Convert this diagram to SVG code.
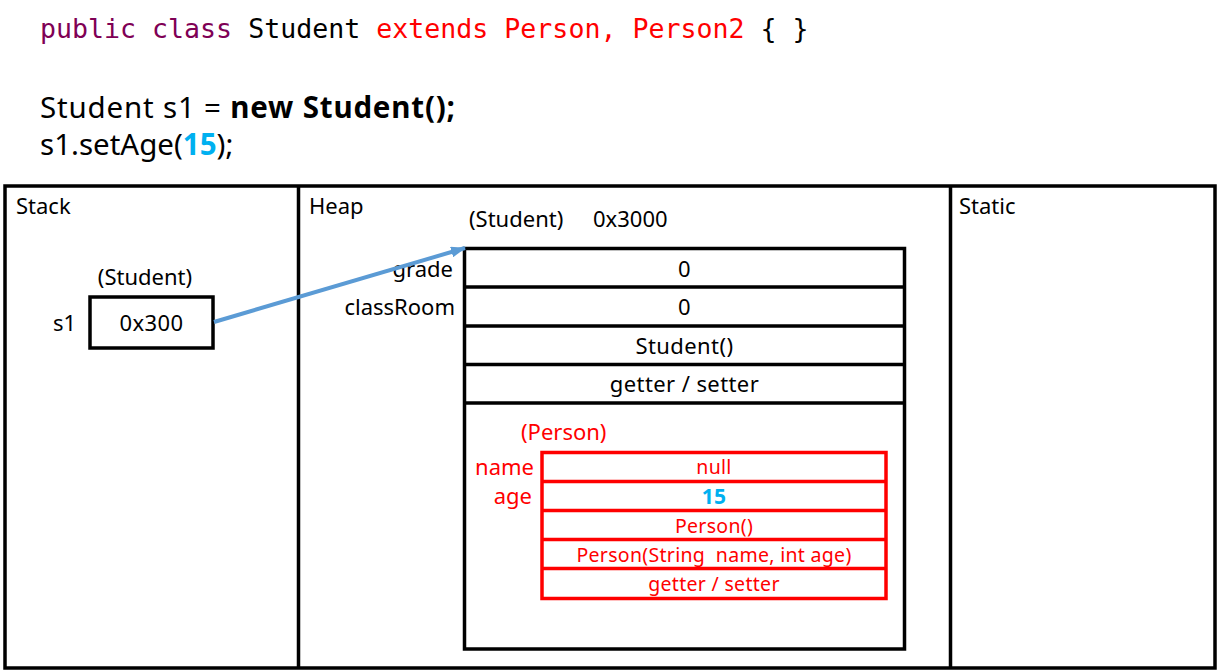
<svg xmlns="http://www.w3.org/2000/svg" width="1219" height="671" viewBox="0 0 1219 671">
<defs>
<style>
text{font-family:"Noto Sans","Open Sans","Liberation Sans",sans-serif;fill:#000}
.code{font-family:"DejaVu Sans Mono","Liberation Mono",monospace;font-size:26.6px}
.kw{fill:#7F0055}
.red{fill:#FF0000}
.blue{fill:#00B0F0;font-weight:bold}
.big{font-size:29.5px}
.lbl{font-size:22px}
.cell{font-size:22px;text-anchor:middle;letter-spacing:0.4px}
.rcell{font-size:19.5px;text-anchor:middle;fill:#FF0000;letter-spacing:0.3px}
.box{fill:none;stroke:#000;stroke-width:3.5}
.rbox{fill:none;stroke:#FF0000;stroke-width:3.5}
</style>
<marker id="ah" markerWidth="15" markerHeight="11" refX="14" refY="5.5" orient="auto" markerUnits="userSpaceOnUse" viewBox="0 0 15 11">
<path d="M0,0 L15,5.5 L0,11 Z" fill="#5B9BD5"/>
</marker>
</defs>
<rect width="1219" height="671" fill="#fff"/>

<g id="code">
<text class="code" x="40" y="38"><tspan class="kw">public class</tspan> Student <tspan class="red">extends Person, Person2</tspan> { }</text>
<text class="big" x="40" y="118" textLength="415">Student s1 = <tspan font-weight="bold">new Student();</tspan></text>
<text class="big" x="40" y="155">s1.setAge(<tspan class="blue">15</tspan>);</text>
</g>

<g id="memory">
<rect class="box" x="5" y="186" width="1210" height="482"/>
<line class="box" x1="298.5" y1="186" x2="298.5" y2="668"/>
<line class="box" x1="950.5" y1="186" x2="950.5" y2="668"/>
<text class="lbl" x="16" y="214">Stack</text>
<text class="lbl" x="309" y="214">Heap</text>
<text class="lbl" x="959" y="214">Static</text>
</g>

<g id="s1">
<text class="lbl" x="145" y="285" text-anchor="middle">(Student)</text>
<text class="lbl" x="53" y="331">s1</text>
<rect class="box" x="90" y="297" width="123" height="51"/>
<text class="cell" x="151.5" y="331">0x300</text>
</g>

<g id="student">
<text class="lbl" x="469" y="227">(Student)</text>
<text class="lbl" x="593" y="227">0x3000</text>
<text class="lbl" x="453" y="277" text-anchor="end">grade</text>
<text class="lbl" x="455" y="315" text-anchor="end">classRoom</text>
<rect class="box" x="464.5" y="248.5" width="440" height="400.5"/>
<line class="box" x1="464.5" y1="287" x2="904.5" y2="287"/>
<line class="box" x1="464.5" y1="326" x2="904.5" y2="326"/>
<line class="box" x1="464.5" y1="364.5" x2="904.5" y2="364.5"/>
<line class="box" x1="464.5" y1="403" x2="904.5" y2="403"/>
<text class="cell" x="684.5" y="277">0</text>
<text class="cell" x="684.5" y="315">0</text>
<text class="cell" x="684.5" y="354">Student()</text>
<text class="cell" x="684.5" y="392">getter / setter</text>
</g>

<g id="person">
<text class="lbl red" x="521" y="440">(Person)</text>
<text class="lbl red" x="534" y="475" text-anchor="end">name</text>
<text class="lbl red" x="532" y="504" text-anchor="end">age</text>
<rect class="rbox" x="542" y="452.5" width="344" height="146"/>
<line class="rbox" x1="542" y1="481.5" x2="886" y2="481.5"/>
<line class="rbox" x1="542" y1="510.5" x2="886" y2="510.5"/>
<line class="rbox" x1="542" y1="539.5" x2="886" y2="539.5"/>
<line class="rbox" x1="542" y1="568.5" x2="886" y2="568.5"/>
<text class="rcell" x="714" y="474">null</text>
<text class="rcell" x="714" y="504" style="fill:#00B0F0;font-weight:bold;font-size:21px">15</text>
<text class="rcell" x="714" y="533">Person()</text>
<text class="rcell" x="714" y="562" xml:space="preserve">Person(String  name, int age)</text>
<text class="rcell" x="714" y="591">getter / setter</text>
</g>

<g id="connectors">
<line x1="214" y1="322" x2="465" y2="248" stroke="#5B9BD5" stroke-width="4" marker-end="url(#ah)"/>
</g>
</svg>
